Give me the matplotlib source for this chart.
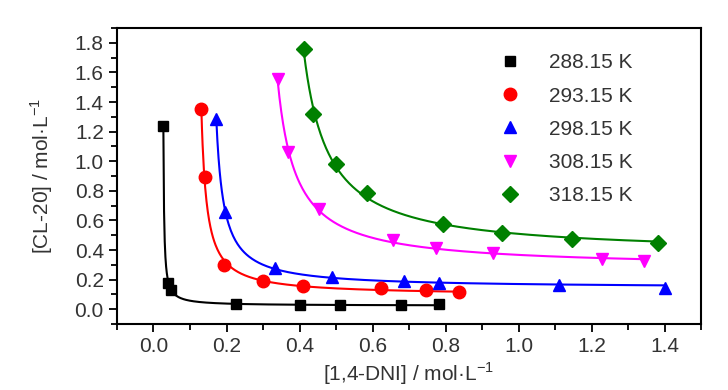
import numpy as np
import matplotlib
matplotlib.use("Agg")
import matplotlib.pyplot as plt
from matplotlib.ticker import MultipleLocator

plt.rcParams['font.family'] = ['Liberation Sans', 'DejaVu Sans']

# datos
x_288 = [0.027, 0.041, 0.048, 0.226, 0.400, 0.510, 0.677, 0.782]
y_288 = [1.24, 0.18, 0.13, 0.034, 0.030, 0.030, 0.030, 0.034]

x_293 = [0.131, 0.140, 0.192, 0.300, 0.410, 0.622, 0.746, 0.837]
y_293 = [1.356, 0.892, 0.298, 0.192, 0.158, 0.142, 0.131, 0.120]

x_298 = [0.172, 0.197, 0.334, 0.490, 0.686, 0.782, 1.112, 1.400]
y_298 = [1.288, 0.655, 0.278, 0.221, 0.192, 0.180, 0.165, 0.147]

x_308 = [0.340, 0.369, 0.453, 0.656, 0.773, 0.931, 1.228, 1.345]
y_308 = [1.553, 1.066, 0.678, 0.468, 0.411, 0.377, 0.339, 0.327]

x_318 = [0.412, 0.437, 0.500, 0.586, 0.794, 0.954, 1.146, 1.383]
y_318 = [1.756, 1.317, 0.983, 0.784, 0.576, 0.515, 0.475, 0.447]

etiquetas = ['288.15 K', '293.15 K', '298.15 K', '308.15 K', '318.15 K']
colores = ['black', 'red', 'blue', 'magenta', 'green']
marcadores = ['s', 'o', '^', 'v', 'D']
tam = [7, 9, 9, 9, 8]

series = [(x_288, y_288), (x_293, y_293), (x_298, y_298), (x_308, y_308), (x_318, y_318)]


def ajuste_hiperbola(x, y):
    # y = c + a/(x - b), busqueda de b y minimos cuadrados para a, c
    x = np.array(x)
    y = np.array(y)
    mejor = None
    for b in np.linspace(x.min() - 0.6, x.min() - 1e-4, 3000):
        A = np.column_stack([1.0 / (x - b), np.ones_like(x)])
        coef, *_ = np.linalg.lstsq(A, y, rcond=None)
        res = np.sum((A @ coef - y) ** 2)
        if mejor is None or res < mejor[0]:
            mejor = (res, b, coef)
    _, b, (a, c) = mejor
    xx = np.linspace(x.min(), x.max(), 400)
    return xx, c + a / (xx - b)


fig = plt.figure(figsize=(7.28, 3.9), dpi=100)
ax = fig.add_axes([0.1607, 0.169, 0.8023, 0.759])

for (x, y), lab, col, m, s in zip(series, etiquetas, colores, marcadores, tam):
    xx, yy = ajuste_hiperbola(x, y)
    ax.plot(xx, yy, color=col, linewidth=1.5, zorder=2)
    ax.plot(x, y, linestyle='none', marker=m, color=col, markersize=s, label=lab, zorder=3)

ax.set_xlim(-0.1, 1.5)
ax.set_ylim(-0.1, 1.9)
ax.xaxis.set_minor_locator(MultipleLocator(0.1))
ax.yaxis.set_minor_locator(MultipleLocator(0.1))
ax.set_xticks(np.arange(0, 1.41, 0.2))
ax.set_yticks(np.arange(0, 1.81, 0.2))
ax.tick_params(which='both', direction='out', width=1.3, colors='black', labelcolor='#333333', labelsize=15)
ax.tick_params(which='major', length=6)
ax.tick_params(which='minor', length=4)
ax.xaxis.set_major_formatter(matplotlib.ticker.FormatStrFormatter('%.1f'))
ax.yaxis.set_major_formatter(matplotlib.ticker.FormatStrFormatter('%.1f'))
for sp in ax.spines.values():
    sp.set_linewidth(1.5)

ax.set_xlabel('[1,4-DNI] / mol·L$^{\\mathregular{-1}}$', fontsize=15, color='#333333', labelpad=3)
ax.set_ylabel('[CL-20] / mol·L$^{\\mathregular{-1}}$', fontsize=15, color='#333333', labelpad=14)

ax.legend(loc='upper right', bbox_to_anchor=(0.915, 0.978), frameon=False, fontsize=15,
          handlelength=1.0, handletextpad=1.35, labelspacing=0.68, labelcolor='#333333')

fig.savefig('out.png', dpi=100)
